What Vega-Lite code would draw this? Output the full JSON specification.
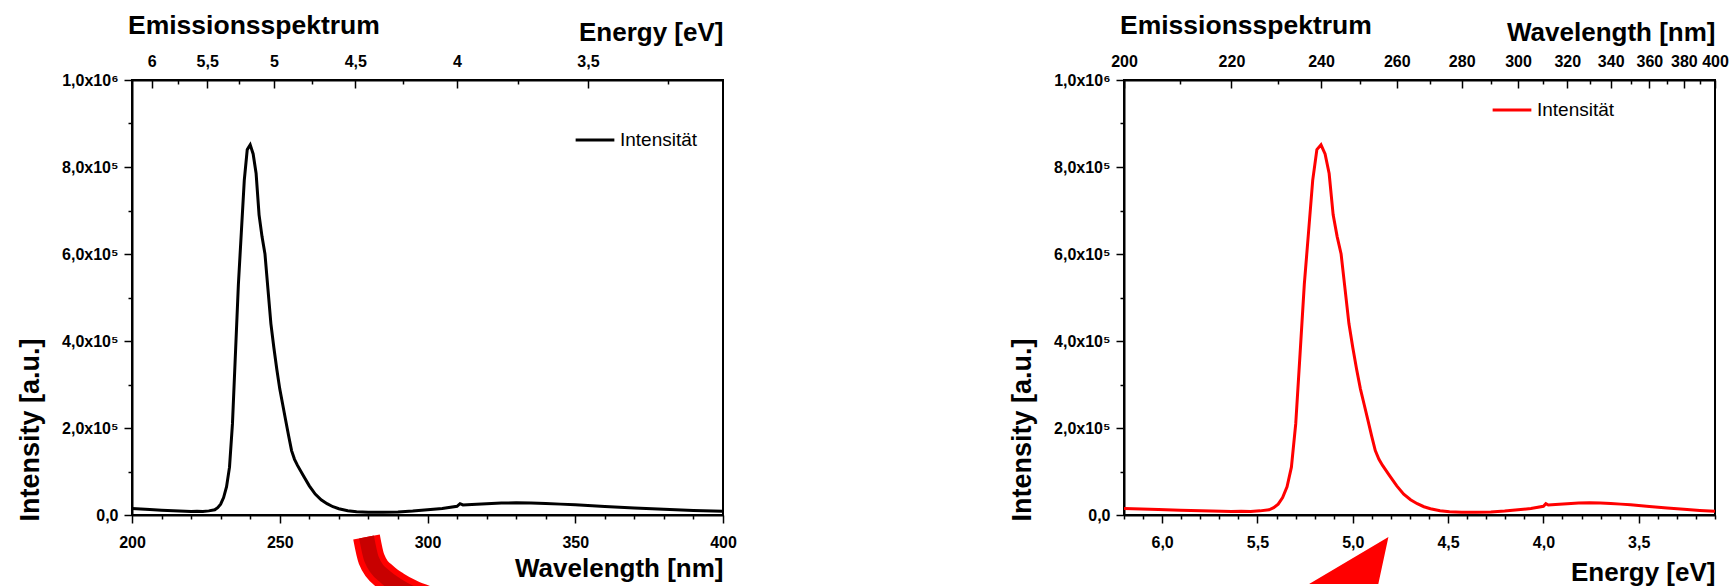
{
  "$schema": "https://vega.github.io/schema/vega-lite/v6.json",
  "padding": {"left": 15, "top": 11, "right": 4, "bottom": 0},
  "background": "white",
  "datasets": {
    "spectrum": [
      {"wl": 200, "I": 15000}, {"wl": 203, "I": 14000}, {"wl": 206, "I": 12500}, {"wl": 210, "I": 11000},
      {"wl": 214, "I": 10000}, {"wl": 218, "I": 8500}, {"wl": 220, "I": 8000}, {"wl": 222, "I": 8500},
      {"wl": 224, "I": 8000}, {"wl": 226, "I": 9500}, {"wl": 228, "I": 12000}, {"wl": 229, "I": 17000},
      {"wl": 230, "I": 25000}, {"wl": 231, "I": 40000}, {"wl": 232, "I": 65000}, {"wl": 233, "I": 110000},
      {"wl": 234, "I": 210000}, {"wl": 235, "I": 370000}, {"wl": 236, "I": 530000}, {"wl": 237, "I": 650000},
      {"wl": 238, "I": 770000}, {"wl": 239, "I": 840000}, {"wl": 240, "I": 851000}, {"wl": 241, "I": 830000},
      {"wl": 242, "I": 785000}, {"wl": 243, "I": 690000}, {"wl": 244, "I": 640000}, {"wl": 245, "I": 600000},
      {"wl": 246, "I": 520000}, {"wl": 247, "I": 440000}, {"wl": 248, "I": 385000}, {"wl": 249, "I": 335000},
      {"wl": 250, "I": 290000}, {"wl": 251, "I": 254000}, {"wl": 252, "I": 218000}, {"wl": 253, "I": 182000},
      {"wl": 254, "I": 148000}, {"wl": 255, "I": 128000}, {"wl": 256, "I": 114000}, {"wl": 258, "I": 90000},
      {"wl": 260, "I": 67000}, {"wl": 262, "I": 48000}, {"wl": 264, "I": 35000}, {"wl": 266, "I": 26000},
      {"wl": 268, "I": 19000}, {"wl": 270, "I": 14500}, {"wl": 273, "I": 10000}, {"wl": 276, "I": 7500},
      {"wl": 280, "I": 6500}, {"wl": 285, "I": 6200}, {"wl": 290, "I": 7000}, {"wl": 295, "I": 9000},
      {"wl": 300, "I": 12000}, {"wl": 305, "I": 15000}, {"wl": 310, "I": 20000}, {"wl": 311, "I": 26000},
      {"wl": 312, "I": 23000}, {"wl": 315, "I": 24000}, {"wl": 320, "I": 26000}, {"wl": 325, "I": 27500},
      {"wl": 330, "I": 28000}, {"wl": 335, "I": 27500}, {"wl": 340, "I": 26500}, {"wl": 345, "I": 25000},
      {"wl": 350, "I": 23500}, {"wl": 360, "I": 19500}, {"wl": 370, "I": 16000}, {"wl": 380, "I": 13000},
      {"wl": 390, "I": 10500}, {"wl": 400, "I": 8500}
    ],
    "eRange": [{"E": 3.1}, {"E": 6.2}],
    "arrowLeft": [
      {"wl": 279.36, "I": -50580}, {"wl": 281.05, "I": -101150}, {"wl": 285.96, "I": -143680},
      {"wl": 289.51, "I": -160920}, {"wl": 294.42, "I": -179320}, {"wl": 299.49, "I": -193100}
    ],
    "arrowRight": [
      {"E": 5.229, "top": -158600, "bottom": -158600},
      {"E": 4.866, "top": -64400, "bottom": -158600},
      {"E": 4.813, "top": -50600, "bottom": -50600}
    ]
  },
  "hconcat": [
    {
      "width": 591,
      "height": 435,
      "title": {"text": "Emissionsspektrum", "anchor": "start", "frame": "group", "offset": -20, "dx": -4},
      "resolve": {"scale": {"x": "independent", "y": "independent"}, "axis": {"x": "independent", "y": "independent"}},
      "layer": [
        {
          "data": {"name": "spectrum"},
          "mark": {"type": "line", "strokeWidth": 3, "color": "black"},
          "encoding": {
            "x": {
              "field": "wl", "type": "quantitative",
              "scale": {"domain": [200, 400], "nice": false, "zero": false},
              "axis": {
                "orient": "bottom", "title": "Wavelength [nm]", "titleAnchor": "end", "titlePadding": 5,
                "values": [200,210,220,230,240,250,260,270,280,290,300,310,320,330,340,350,360,370,380,390,400],
                "labelExpr": "datum.value % 50 === 0 ? '' + datum.value : ''",
                "tickSize": {"condition": {"test": "datum.value % 50 === 0", "value": 8}, "value": 4},
                "labelPadding": 11
              }
            },
            "y": {
              "field": "I", "type": "quantitative",
              "scale": {"domain": [0, 1000000], "nice": false, "zero": false},
              "axis": {
                "orient": "left",
                "title": "Intensity [a.u.]", "titleFontSize": 27, "titleAnchor": "start", "titleAlign": "left", "titleY": 441, "titlePadding": 17,
                "values": [0,100000,200000,300000,400000,500000,600000,700000,800000,900000,1000000],
                "labelExpr": "datum.value === 0 ? '0,0' : (datum.value === 1000000 ? '1,0x10⁶' : (datum.value % 200000 === 0 ? (datum.value/100000) + ',0x10⁵' : ''))",
                "tickSize": {"condition": {"test": "datum.value % 200000 === 0", "value": 8}, "value": 4},
                "labelPadding": 6
              }
            },
            "color": {
              "datum": "Intensität", "type": "nominal",
              "scale": {"range": ["#000000"]},
              "legend": {"orient": "none", "legendX": 442, "legendY": 39, "title": null}
            }
          }
        },
        {
          "data": {"name": "arrowLeft"},
          "mark": {"type": "line", "strokeWidth": 27, "color": "#ff0000", "interpolate": "monotone", "strokeCap": "butt"},
          "encoding": {
            "x": {"field": "wl", "type": "quantitative", "scale": {"domain": [200, 400], "nice": false, "zero": false}, "axis": null},
            "y": {"field": "I", "type": "quantitative", "scale": {"domain": [0, 1000000], "nice": false, "zero": false}, "axis": null}
          }
        },
        {
          "data": {"name": "arrowLeft"},
          "mark": {"type": "line", "strokeWidth": 15, "color": "#c80000", "interpolate": "monotone", "strokeCap": "butt"},
          "encoding": {
            "x": {"field": "wl", "type": "quantitative", "scale": {"domain": [200, 400], "nice": false, "zero": false}, "axis": null},
            "y": {"field": "I", "type": "quantitative", "scale": {"domain": [0, 1000000], "nice": false, "zero": false}, "axis": null}
          }
        },
        {
          "data": {"name": "eRange"},
          "mark": {"type": "point", "opacity": 0},
          "encoding": {
            "x": {
              "field": "E", "type": "quantitative",
              "scale": {"type": "pow", "exponent": -1, "domain": [3.1, 6.2], "reverse": true, "nice": false, "zero": false},
              "axis": {
                "orient": "top", "title": "Energy [eV]", "titleAnchor": "start", "titleAlign": "right",
                "values": [6, 5.75, 5.5, 5.25, 5, 4.75, 4.5, 4.25, 4, 3.75, 3.5, 3.25],
                "labelExpr": "abs(datum.value*2 - round(datum.value*2)) < 0.001 ? replace('' + datum.value, '.', ',') : ''",
                "tickSize": {"condition": {"test": "abs(datum.value*2 - round(datum.value*2)) < 0.001", "value": -8}, "value": -4},
                "labelPadding": 19
              }
            }
          }
        }
      ]
    },
    {
      "width": 591,
      "height": 435,
      "title": {"text": "Emissionsspektrum", "anchor": "start", "frame": "group", "offset": -20, "dx": -4},
      "resolve": {"scale": {"x": "independent", "y": "independent"}, "axis": {"x": "independent", "y": "independent"}},
      "layer": [
        {
          "data": {"name": "spectrum"},
          "mark": {"type": "line", "strokeWidth": 3, "color": "#ff0000"},
          "encoding": {
            "x": {
              "field": "wl", "type": "quantitative",
              "scale": {"type": "pow", "exponent": -1, "domain": [200, 400], "nice": false, "zero": false},
              "axis": {
                "orient": "top", "title": "Wavelength [nm]", "titleAnchor": "end",
                "values": [200,210,220,230,240,250,260,270,280,290,300,310,320,330,340,350,360,370,380,390,400],
                "labelExpr": "datum.value % 20 === 0 ? '' + datum.value : ''",
                "tickSize": {"condition": {"test": "datum.value % 20 === 0", "value": -8}, "value": -4},
                "labelPadding": 19
              }
            },
            "y": {
              "field": "I", "type": "quantitative",
              "scale": {"domain": [0, 1000000], "nice": false, "zero": false},
              "axis": {
                "orient": "left",
                "title": "Intensity [a.u.]", "titleFontSize": 27, "titleAnchor": "start", "titleAlign": "left", "titleY": 441, "titlePadding": 17,
                "values": [0,100000,200000,300000,400000,500000,600000,700000,800000,900000,1000000],
                "labelExpr": "datum.value === 0 ? '0,0' : (datum.value === 1000000 ? '1,0x10⁶' : (datum.value % 200000 === 0 ? (datum.value/100000) + ',0x10⁵' : ''))",
                "tickSize": {"condition": {"test": "datum.value % 200000 === 0", "value": 8}, "value": 4},
                "labelPadding": 6
              }
            },
            "color": {
              "datum": "Intensität", "type": "nominal",
              "scale": {"range": ["#ff0000"]},
              "legend": {"orient": "none", "legendX": 367, "legendY": 9, "title": null}
            }
          }
        },
        {
          "data": {"name": "arrowRight"},
          "mark": {"type": "area", "color": "#ff0000", "opacity": 1},
          "encoding": {
            "x": {"field": "E", "type": "quantitative", "scale": {"domain": [3.1, 6.2], "reverse": true, "nice": false, "zero": false}, "axis": null},
            "y": {"field": "top", "type": "quantitative", "scale": {"domain": [0, 1000000], "nice": false, "zero": false}, "axis": null},
            "y2": {"field": "bottom"}
          }
        },
        {
          "data": {"name": "eRange"},
          "mark": {"type": "point", "opacity": 0},
          "encoding": {
            "x": {
              "field": "E", "type": "quantitative",
              "scale": {"domain": [3.1, 6.2], "reverse": true, "nice": false, "zero": false},
              "axis": {
                "orient": "bottom", "title": "Energy [eV]", "titleAnchor": "start", "titleAlign": "right", "titlePadding": 9,
                "values": [3.1,3.2,3.3,3.4,3.5,3.6,3.7,3.8,3.9,4.0,4.1,4.2,4.3,4.4,4.5,4.6,4.7,4.8,4.9,5.0,5.1,5.2,5.3,5.4,5.5,5.6,5.7,5.8,5.9,6.0,6.1,6.2],
                "labelExpr": "abs(datum.value*2 - round(datum.value*2)) < 0.001 ? replace(format(datum.value, '.1f'), '.', ',') : ''",
                "tickSize": {"condition": {"test": "abs(datum.value*2 - round(datum.value*2)) < 0.001", "value": 8}, "value": 4},
                "labelPadding": 11
              }
            }
          }
        }
      ]
    }
  ],
  "bounds": "flush",
  "spacing": 401,
  "resolve": {"scale": {"color": "independent"}},
  "config": {
    "font": "Liberation Sans",
    "view": {"stroke": "black", "strokeWidth": 2},
    "axis": {
      "grid": false,
      "domainColor": "black", "domainWidth": 2,
      "tickColor": "black", "tickWidth": 1.5,
      "labelFont": "Liberation Sans", "labelFontSize": 16, "labelFontWeight": "bold", "labelColor": "black",
      "labelFlush": false, "labelOverlap": false,
      "titleFont": "Liberation Sans", "titleFontSize": 26, "titleFontWeight": "bold", "titleColor": "black"
    },
    "legend": {
      "labelFont": "Liberation Sans", "labelFontSize": 19, "labelColor": "black",
      "symbolType": "stroke", "symbolStrokeWidth": 3, "symbolSize": 1500
    },
    "title": {"font": "Liberation Sans", "fontSize": 26.5, "fontWeight": "bold", "color": "black"}
  }
}
